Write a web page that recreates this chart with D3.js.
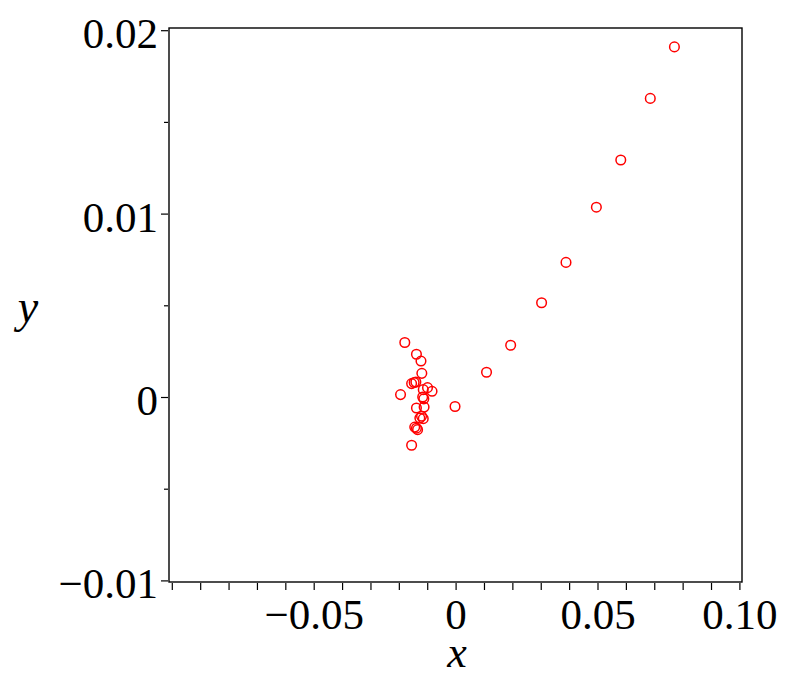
<!DOCTYPE html>
<html>
<head>
<meta charset="utf-8">
<script src="https://cdn.jsdelivr.net/npm/d3@7"></script>
<style>
  html, body { margin: 0; padding: 0; background: #fff; }
  svg { display: block; }
</style>
</head>
<body>
<svg id="chart" width="790" height="693"></svg>
<script>
// Data
const xValues = [
  -0.0179, -0.0138, -0.0122, -0.0119, -0.0155, -0.0146, -0.0140, -0.0114,
  -0.0099, -0.0083, -0.0194, -0.0116, -0.0112, -0.0002, -0.0138, -0.0111,
  -0.0120, -0.0126, -0.0114, -0.0144, -0.0134, -0.0138, -0.0155,
  0.0109, 0.0194, 0.0303, 0.0389, 0.0496, 0.0582, 0.0686, 0.0771
];
const yValues = [
  0.00297, 0.00233, 0.00196, 0.00129, 0.00073, 0.00079, 0.00082, 0.00040,
  0.00051, 0.00031, 0.00013, 0.00000, -0.00010, -0.00052, -0.00060, -0.00055,
  -0.00105, -0.00115, -0.00118, -0.00164, -0.00178, -0.00170, -0.00263,
  0.00135, 0.00282, 0.00514, 0.00734, 0.01035, 0.01292, 0.01628, 0.01909
];
const xMajorTicks = [-0.05, 0, 0.05, 0.10];
const xMajorLabels = ["\u22120.05", "0", "0.05", "0.10"];
const xMinorTicks = [-0.1, -0.09, -0.08, -0.07, -0.06, -0.04, -0.03, -0.02, -0.01,
  0.01, 0.02, 0.03, 0.04, 0.06, 0.07, 0.08, 0.09];
const yMajorTicks = [-0.01, 0, 0.01, 0.02];
const yMajorLabels = ["\u22120.01", "0", "0.01", "0.02"];
const yMinorTicks = [-0.005, 0.005, 0.015];
const xTitle = "x";
const yTitle = "y";

const svg = d3.select("#chart");
const frame = { left: 169, right: 742, top: 28, bottom: 582 };

const x = d3.scaleLinear().domain([-0.1, 0.1]).range([171.8, 739.4]);
const y = d3.scaleLinear().domain([-0.01, 0.02]).range([580.4, 30.2]);

const font = "'Liberation Serif', 'Times New Roman', serif";

// Frame
svg.append("rect")
  .attr("x", frame.left).attr("y", frame.top)
  .attr("width", frame.right - frame.left)
  .attr("height", frame.bottom - frame.top)
  .attr("fill", "none").attr("stroke", "#000").attr("stroke-width", 1.4);

// X axis ticks (below frame)
const xAxisMajor = d3.axisBottom(x).tickValues(xMajorTicks).tickSize(7)
  .tickFormat((d, i) => xMajorLabels[i]);
const gx = svg.append("g").attr("transform", `translate(0,${frame.bottom + 1})`).call(xAxisMajor);
gx.select(".domain").remove();
gx.selectAll("line").attr("stroke", "#000").attr("stroke-width", 1.2);
gx.selectAll("text").attr("font-family", font).attr("font-size", 43)
  .attr("fill", "#000").attr("y", 0).attr("dy", 46);

const xAxisMinor = d3.axisBottom(x).tickValues(xMinorTicks).tickSize(7).tickFormat("");
const gxm = svg.append("g").attr("transform", `translate(0,${frame.bottom + 1})`).call(xAxisMinor);
gxm.select(".domain").remove();
gxm.selectAll("line").attr("stroke", "#000").attr("stroke-width", 1.2);

// Y axis ticks (left of frame)
const yAxisMajor = d3.axisLeft(y).tickValues(yMajorTicks).tickSize(7)
  .tickFormat((d, i) => yMajorLabels[i]);
const gy = svg.append("g").attr("transform", `translate(${frame.left - 1},0)`).call(yAxisMajor);
gy.select(".domain").remove();
gy.selectAll("line").attr("stroke", "#000").attr("stroke-width", 1.2);
gy.selectAll("text").attr("font-family", font).attr("font-size", 43)
  .attr("fill", "#000").attr("x", -10).attr("dy", 17.5);

const yAxisMinor = d3.axisLeft(y).tickValues(yMinorTicks).tickSize(4).tickFormat("");
const gym = svg.append("g").attr("transform", `translate(${frame.left - 1},0)`).call(yAxisMinor);
gym.select(".domain").remove();
gym.selectAll("line").attr("stroke", "#000").attr("stroke-width", 1.2);

// Axis titles
svg.append("text").attr("x", 457).attr("y", 667)
  .attr("text-anchor", "middle").attr("font-family", font)
  .attr("font-style", "italic").attr("font-size", 44).text(xTitle);
svg.append("text").attr("x", 28).attr("y", 322)
  .attr("text-anchor", "middle").attr("font-family", font)
  .attr("font-style", "italic").attr("font-size", 46).text(yTitle);

// Points
const data = xValues.map((v, i) => ({ x: v, y: yValues[i] }));
svg.append("g").selectAll("circle").data(data).join("circle")
  .attr("cx", d => x(d.x)).attr("cy", d => y(d.y)).attr("r", 4.8)
  .attr("fill", "none").attr("stroke", "#ff0000").attr("stroke-width", 1.5);
</script>
</body>
</html>
